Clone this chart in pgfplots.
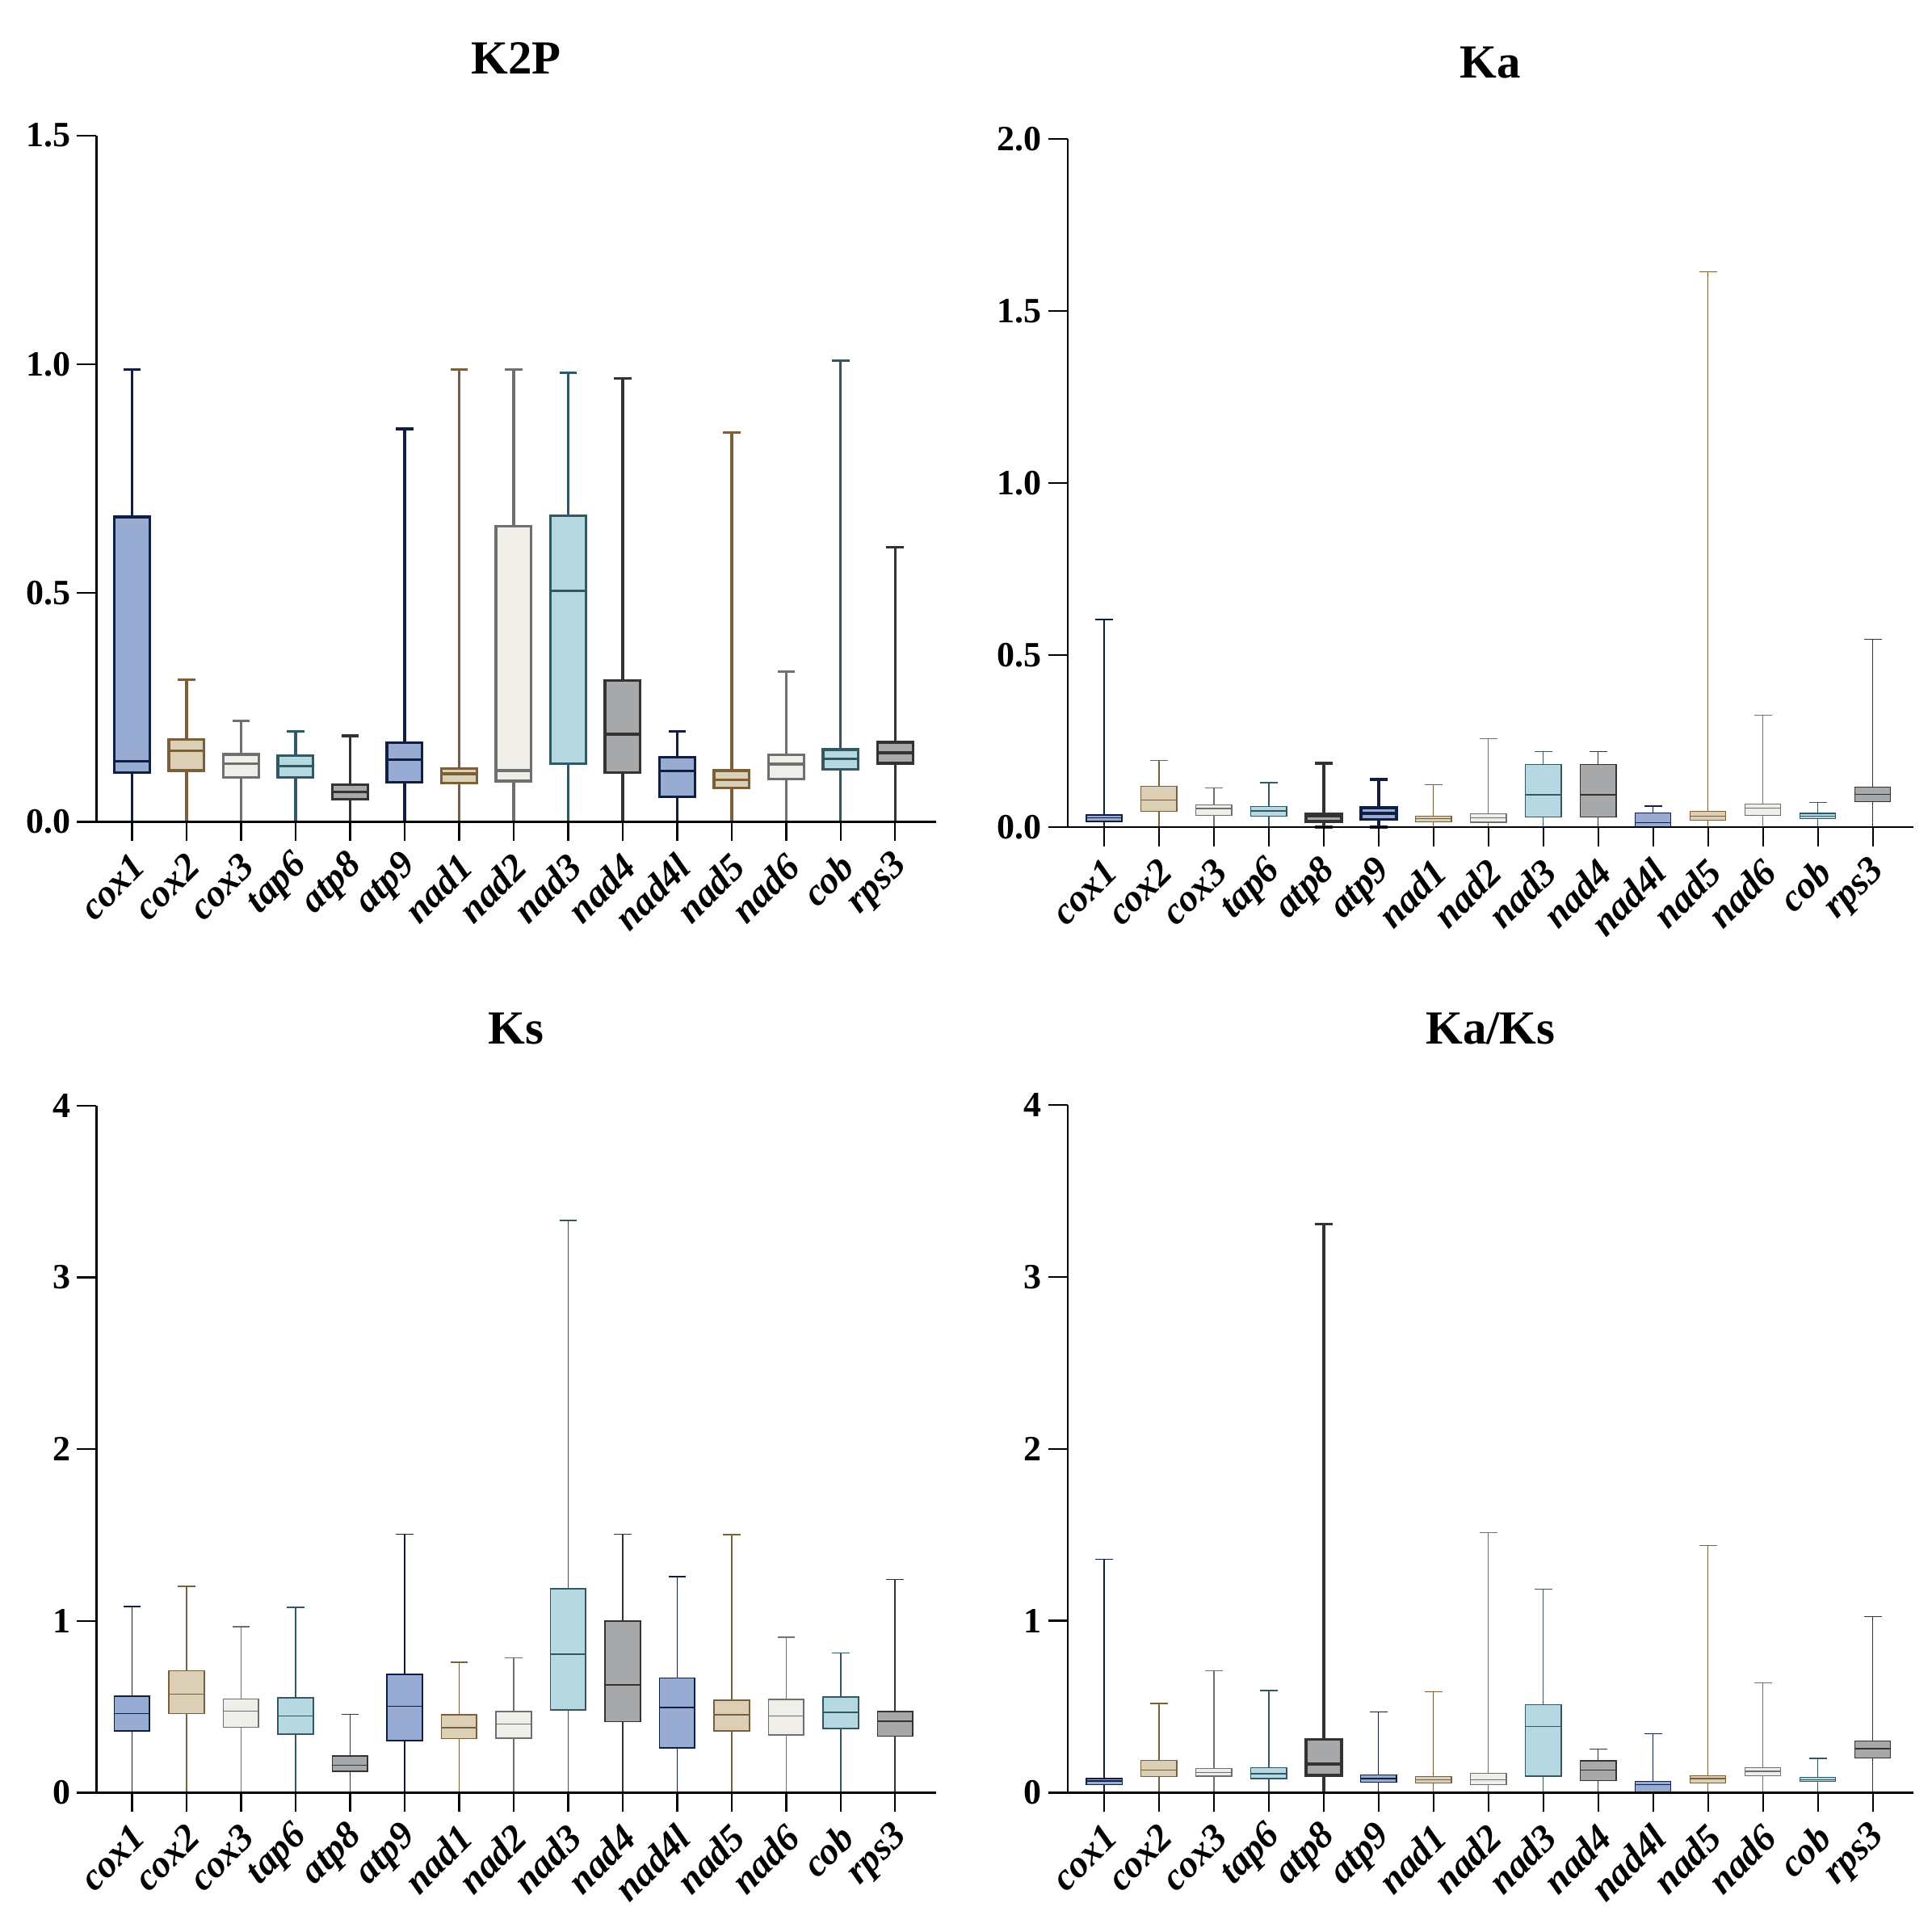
\documentclass[border=0pt]{standalone}
\usepackage{fontspec}
\setmainfont{Liberation Serif}
\usepackage{pgfplots}
\pgfplotsset{compat=1.18}
\usepgfplotslibrary{statistics}

\definecolor{blueF}{HTML}{97ABD3}
\definecolor{blueD}{HTML}{0F1E42}
\definecolor{tanF}{HTML}{DBCFB6}
\definecolor{tanD}{HTML}{7A603A}
\definecolor{whiteF}{HTML}{F0EEE9}
\definecolor{whiteD}{HTML}{6F6F6F}
\definecolor{cyanF}{HTML}{B6D8E1}
\definecolor{cyanD}{HTML}{325963}
\definecolor{grayF}{HTML}{A7A8AA}
\definecolor{grayD}{HTML}{333333}

\pgfplotsset{
  gBlue/.style={fill=blueF, draw=blueD},
  gTan/.style={fill=tanF, draw=tanD},
  gWhite/.style={fill=whiteF, draw=whiteD},
  gCyan/.style={fill=cyanF, draw=cyanD},
  gGray/.style={fill=grayF, draw=grayD},
  thick box/.style={line width=0.85pt},
  thin box/.style={line width=0.3pt},
  panel/.style={
    scale only axis,
    anchor=south west,
    axis lines=left,
    axis line style={-, line width=0.6pt},
    every tick/.style={black, line width=0.6pt},
    tick align=outside,
    major tick length=6pt,
    minor tick num=0,
    xtick={1,...,15},
    xticklabels={cox1,cox2,cox3,tap6,atp8,atp9,nad1,nad2,nad3,nad4,nad4l,nad5,nad6,cob,rps3},
    xticklabel style={font=\fontsize{11.8}{13}\selectfont\bfseries\itshape,
      xshift=4.5pt, yshift=-3.5pt, rotate=45, anchor=east},
    yticklabel style={font=\fontsize{11}{12}\selectfont\bfseries, xshift=1.5pt},
    /pgf/number format/assume math mode=true,
    title style={font=\fontsize{14.7}{16}\selectfont\bfseries, at={(0.5,1)}, anchor=base, yshift=13pt},
    axis on top,
    boxplot/draw direction=y,
    boxplot/box extend=0.65,
    boxplot/whisker extend=0.32,
    ymin=0,
    clip=false,
  },
  left panel/.style={panel, width=259.9pt, xmin=0.348, xmax=15.75},
  right panel/.style={panel, width=261.75pt, xmin=0.338, xmax=15.74},
  one decimal/.style={/pgf/number format/fixed, /pgf/number format/fixed zerofill, /pgf/number format/precision=1},
}

% position, Q1, median, Q3, upper whisker, style
\newcommand{\gene}[6]{%
  \addplot[boxplot prepared={draw position=#1, lower whisker=0,
    lower quartile=#2, median=#3, upper quartile=#4, upper whisker=#5}, #6]
    coordinates {};}

\begin{document}
\begin{tikzpicture}
\useasboundingbox (0,0) rectangle (598pt,596.75pt);

% ---------------- K2P ----------------
\begin{axis}[left panel, at={(29.83pt,342.4pt)}, height=212.4pt,
  ymax=1.5, ytick={0,0.5,1,1.5}, one decimal, title={K2P}]
\gene{1}{0.108}{0.132}{0.666}{0.989}{gBlue, thick box}
\gene{2}{0.112}{0.155}{0.180}{0.311}{gTan, thick box}
\gene{3}{0.097}{0.127}{0.147}{0.220}{gWhite, thick box}
\gene{4}{0.097}{0.122}{0.145}{0.197}{gCyan, thick box}
\gene{5}{0.049}{0.065}{0.081}{0.188}{gGray, thick box}
\gene{6}{0.086}{0.136}{0.173}{0.859}{gBlue, thick box}
\gene{7}{0.085}{0.105}{0.116}{0.989}{gTan, thick box}
\gene{8}{0.089}{0.112}{0.646}{0.989}{gWhite, thick box}
\gene{9}{0.127}{0.505}{0.669}{0.981}{gCyan, thick box}
\gene{10}{0.107}{0.191}{0.309}{0.969}{gGray, thick box}
\gene{11}{0.054}{0.111}{0.141}{0.197}{gBlue, thick box}
\gene{12}{0.074}{0.092}{0.112}{0.851}{gTan, thick box}
\gene{13}{0.093}{0.126}{0.146}{0.328}{gWhite, thick box}
\gene{14}{0.115}{0.138}{0.158}{1.008}{gCyan, thick box}
\gene{15}{0.128}{0.151}{0.174}{0.600}{gGray, thick box}
\end{axis}

% ---------------- Ka ----------------
\begin{axis}[right panel, at={(330.5pt,340.75pt)}, height=212.95pt,
  ymax=2, ytick={0,0.5,1,1.5,2}, one decimal, title={Ka}]
\gene{1}{0.016}{0.027}{0.036}{0.603}{gBlue, line width=0.45pt}
\gene{2}{0.045}{0.079}{0.119}{0.194}{gTan, thin box}
\gene{3}{0.034}{0.054}{0.065}{0.113}{gWhite, thin box}
\gene{4}{0.031}{0.047}{0.059}{0.129}{gCyan, thin box}
\gene{5}{0.016}{0.031}{0.038}{0.185}{gGray, thick box}
\gene{6}{0.022}{0.040}{0.056}{0.138}{gBlue, thick box}
\gene{7}{0.016}{0.025}{0.032}{0.124}{gTan, thin box}
\gene{8}{0.014}{0.027}{0.038}{0.257}{gWhite, thin box}
\gene{9}{0.029}{0.094}{0.182}{0.219}{gCyan, thin box}
\gene{10}{0.029}{0.094}{0.182}{0.219}{gGray, thin box}
\gene{11}{0.000}{0.013}{0.041}{0.061}{gBlue, thin box}
\gene{12}{0.020}{0.032}{0.045}{1.615}{gTan, thin box}
\gene{13}{0.034}{0.056}{0.067}{0.326}{gWhite, thin box}
\gene{14}{0.025}{0.032}{0.040}{0.072}{gCyan, thin box}
\gene{15}{0.074}{0.095}{0.117}{0.545}{gGray, thin box}
\end{axis}

% ---------------- Ks ----------------
\begin{axis}[left panel, at={(29.83pt,41.9pt)}, height=212.65pt,
  ymax=4, ytick={0,1,2,3,4}, title={Ks}]
\gene{1}{0.360}{0.460}{0.560}{1.084}{gBlue, line width=0.4pt}
\gene{2}{0.460}{0.574}{0.709}{1.201}{gTan, line width=0.4pt}
\gene{3}{0.381}{0.474}{0.545}{0.966}{gWhite, line width=0.4pt}
\gene{4}{0.339}{0.446}{0.553}{1.080}{gCyan, line width=0.4pt}
\gene{5}{0.125}{0.160}{0.214}{0.456}{gGray, line width=0.4pt}
\gene{6}{0.303}{0.503}{0.688}{1.504}{gBlue, line width=0.4pt}
\gene{7}{0.314}{0.378}{0.453}{0.759}{gTan, line width=0.4pt}
\gene{8}{0.317}{0.399}{0.471}{0.784}{gWhite, line width=0.4pt}
\gene{9}{0.481}{0.806}{1.187}{3.330}{gCyan, line width=0.4pt}
\gene{10}{0.414}{0.627}{0.998}{1.504}{gGray, line width=0.4pt}
\gene{11}{0.260}{0.496}{0.667}{1.258}{gBlue, line width=0.4pt}
\gene{12}{0.360}{0.453}{0.538}{1.501}{gTan, line width=0.4pt}
\gene{13}{0.335}{0.446}{0.542}{0.906}{gWhite, line width=0.4pt}
\gene{14}{0.374}{0.467}{0.556}{0.813}{gCyan, line width=0.4pt}
\gene{15}{0.328}{0.417}{0.471}{1.241}{gGray, line width=0.4pt}
\end{axis}

% ---------------- Ka/Ks ----------------
\begin{axis}[right panel, at={(330.5pt,41.9pt)}, height=212.8pt,
  ymax=4, ytick={0,1,2,3,4}, title={Ka/Ks}]
\gene{1}{0.046}{0.068}{0.082}{1.358}{gBlue, thin box}
\gene{2}{0.092}{0.132}{0.188}{0.519}{gTan, thin box}
\gene{3}{0.096}{0.117}{0.139}{0.708}{gWhite, thin box}
\gene{4}{0.082}{0.110}{0.146}{0.594}{gCyan, thin box}
\gene{5}{0.100}{0.167}{0.309}{3.307}{gGray, thick box}
\gene{6}{0.060}{0.082}{0.103}{0.469}{gBlue, thin box}
\gene{7}{0.057}{0.075}{0.092}{0.587}{gTan, thin box}
\gene{8}{0.046}{0.075}{0.114}{1.511}{gWhite, thin box}
\gene{9}{0.096}{0.384}{0.512}{1.184}{gCyan, thin box}
\gene{10}{0.071}{0.132}{0.185}{0.252}{gGray, thin box}
\gene{11}{0.004}{0.046}{0.064}{0.341}{gBlue, thin box}
\gene{12}{0.057}{0.082}{0.100}{1.436}{gTan, thin box}
\gene{13}{0.100}{0.124}{0.146}{0.640}{gWhite, thin box}
\gene{14}{0.064}{0.075}{0.089}{0.199}{gCyan, thin box}
\gene{15}{0.203}{0.256}{0.299}{1.024}{gGray, thin box}
\end{axis}
\end{tikzpicture}
\end{document}
